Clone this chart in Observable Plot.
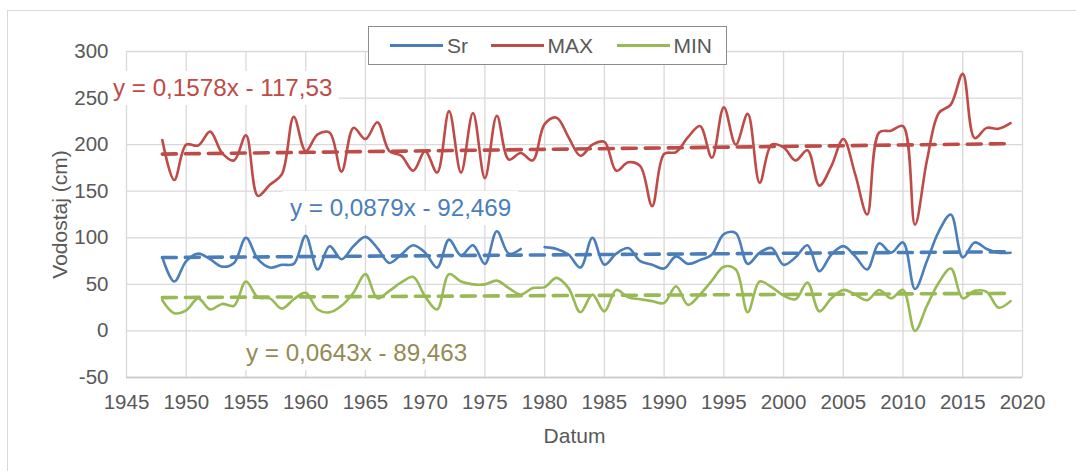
<!DOCTYPE html>
<html><head><meta charset="utf-8">
<script src="https://cdn.jsdelivr.net/npm/d3@7"></script>
<script src="https://cdn.jsdelivr.net/npm/@observablehq/plot@0.6"></script>
<style>
body{margin:0;background:#fff;font-family:"Liberation Sans",Arial,sans-serif;}
#wrap{position:relative;width:1076px;height:471px;overflow:hidden;background:#fff;}
#frame{position:absolute;left:7px;top:10px;width:1200px;height:600px;border:1px solid #d9d9d9;}
#chart{position:absolute;left:0;top:0;}
.eq{position:absolute;background:#fff;font-size:24.2px;line-height:34px;padding:0 7px;white-space:nowrap;}
#legend{position:absolute;left:368px;top:26px;width:357px;height:37px;border:1.5px solid #8c8c8c;background:#fff;}
.li{position:absolute;top:0;height:37px;display:flex;align-items:center;font-size:21px;color:#595959;}
.sw{display:inline-block;width:53px;height:2.5px;margin-right:4px;}
</style>
</head><body>
<div id="wrap">
  <div id="frame"></div>
  <div id="chart"></div>
  <div id="legend"></div>
  <div id="eqs"></div>
</div>
<script>
const years = [1948,1949,1950,1951,1952,1953,1954,1955,1956,1957,1958,1959,1960,1961,1962,1963,1964,1965,1966,1967,1968,1969,
  1970,1971,1972,1973,1974,1975,1976,1977,1978,1979,1980,1981,1982,1983,1984,1985,1986,1987,1988,1989,
  1990,1991,1992,1993,1994,1995,1996,1997,1998,1999,2000,2001,2002,2003,2004,2005,2006,2007,2008,2009,
  2010,2011,2012,2013,2014,2015,2016,2017,2018,2019];
const sr = [79,53,75,83,77,69,73,100,77,68,71,72,102,66,91,77,91,101,89,73,82,92,
  84,68,98,81,92,72,107,83,88,null,90,88,82,68,100,71,83,89,75,71,
  67,80,72,76,82,104,105,72,84,89,71,79,92,64,82,91,80,66,94,84,
  95,45,75,107,125,79,95,88,84,84];
const maxv = [205,162,200,199,214,191,183,210,145,157,168,230,193,211,213,171,218,206,224,193,188,172,
  193,170,236,170,234,164,231,184,191,183,222,229,208,188,200,203,172,181,177,134,
  190,192,208,220,186,240,200,233,159,200,197,183,194,156,177,206,168,125,213,215,
  220,114,183,234,243,276,207,218,217,223];
const minv = [33,19,22,35,23,29,27,53,36,35,24,34,41,23,20,27,41,61,35,43,52,58,
  37,23,61,53,50,50,54,46,39,46,47,57,46,20,39,21,44,36,34,32,
  30,48,28,39,54,69,66,20,53,47,38,34,52,21,35,44,39,33,44,35,
  44,0,27,52,67,35,43,42,25,32];
const seriesNames = ["Sr","MAX","MIN"];
const seriesColors = ["#4a7ebb","#be4b48","#98b954"];
const trendSlopes = [0.0879, 0.1578, 0.0643];
const trendIntercepts = [-92.469, -117.53, -89.463];
const trendLabels = ["y = 0,0879x - 92,469","y = 0,1578x - 117,53","y = 0,0643x - 89,463"];
const trendLabelColors = ["#4a7ebb","#be4b48","#948a54"];
const xTicks = [1945,1950,1955,1960,1965,1970,1975,1980,1985,1990,1995,2000,2005,2010,2015,2020];
const yTicks = [-50,0,50,100,150,200,250,300];
const yTitle = "Vodostaj (cm)";
const xTitle = "Datum";

const values = [sr, maxv, minv];
const rows = values.map(arr => years.map((yr, i) => ({year: yr, v: arr[i]})));
const yr0 = years[0], yr1 = years[years.length - 1];
const trends = trendSlopes.map((s, k) => [yr0, yr1].map(yr => ({year: yr, v: s * yr + trendIntercepts[k]})));

const xDomain = [xTicks[0], xTicks[xTicks.length - 1]];
const yDomain = [yTicks[0], yTicks[yTicks.length - 1]];
const ink = "#595959";
const chart = Plot.plot({
  width: 1076, height: 471,
  marginLeft: 126, marginRight: 54, marginTop: 51, marginBottom: 94,
  style: {fontFamily: "'Liberation Sans', Arial, sans-serif", fontSize: "20.5px", color: ink, background: "transparent"},
  x: {domain: xDomain, label: null},
  y: {domain: yDomain, label: null},
  marks: [
    Plot.gridX(xTicks, {stroke: "#d9d9d9", strokeOpacity: 1, strokeWidth: 1.3}),
    Plot.gridY(yTicks, {stroke: "#d9d9d9", strokeOpacity: 1, strokeWidth: 1.3}),
    Plot.ruleY([yTicks[0]], {stroke: "#c8c8c8", strokeWidth: 1.3}),
    Plot.axisX(xTicks, {tickSize: 0, tickPadding: 17, tickFormat: d => String(d), label: null, fontSize: 20.5, fill: ink}),
    Plot.axisY(yTicks, {tickSize: 0, tickPadding: 18, tickFormat: d => String(d), label: null, fontSize: 20.5, fill: ink}),
    ...rows.map((r, k) => Plot.line(r, {x: "year", y: "v", stroke: seriesColors[k], strokeWidth: 2.6, curve: "catmull-rom"})),
    ...trends.map((t, k) => Plot.line(t, {x: "year", y: "v", stroke: seriesColors[k], strokeWidth: 3.6, strokeDasharray: "14,9"})),
    Plot.text([yTitle], {text: d => d, x: () => xDomain[0], y: () => (yDomain[0] + yDomain[1]) / 2,
      dx: -66, rotate: -90, textAnchor: "middle", lineAnchor: "middle", fontSize: 21, fill: ink}),
    Plot.text([xTitle], {text: d => d, x: () => (xDomain[0] + xDomain[1]) / 2, y: () => yDomain[0],
      dy: 58.7, textAnchor: "middle", lineAnchor: "middle", fontSize: 21, fill: ink})
  ]
});
document.getElementById("chart").appendChild(chart);

// legend
const legend = document.getElementById("legend");
const legendLeft = [21, 121.5, 247.5];
seriesNames.forEach((n, k) => {
  const d = document.createElement("div");
  d.className = "li";
  d.style.left = legendLeft[k] + "px";
  d.innerHTML = `<span class="sw" style="background:${seriesColors[k]}"></span>${n}`;
  legend.appendChild(d);
});

// trendline equations
const eqPos = [[283, 191], [111, 71], [239, 336]];
const eqPadL = ["7px", "2px", "7px"];
const eqs = document.getElementById("eqs");
trendLabels.forEach((t, k) => {
  const d = document.createElement("div");
  d.className = "eq";
  d.style.left = eqPos[k][0] + "px";
  d.style.top = eqPos[k][1] + "px";
  d.style.paddingLeft = eqPadL[k];
  d.style.color = trendLabelColors[k];
  d.textContent = t;
  eqs.appendChild(d);
});
</script>
</body></html>
